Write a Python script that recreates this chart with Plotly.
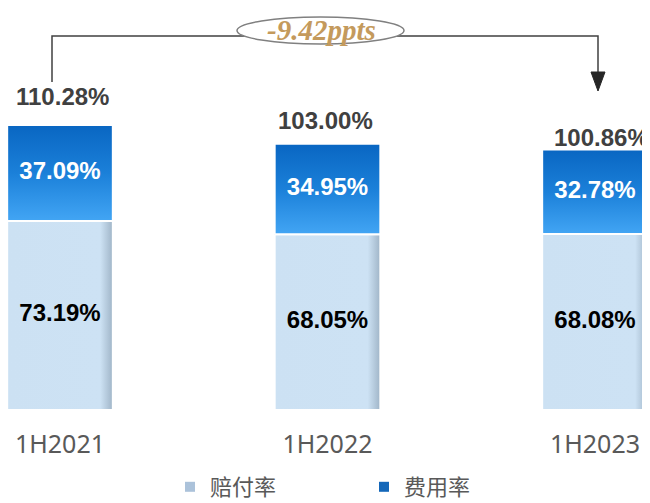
import plotly.graph_objects as go

periods = ['1H2021', '1H2022', '1H2023']
loss_ratio = [73.19, 68.05, 68.08]      # 赔付率
expense_ratio = [37.09, 34.95, 32.78]   # 费用率
combined_ratio = [110.28, 103.00, 100.86]
change_label = '-9.42ppts'

# the page body has an 8px margin, so the figure is 8px smaller than the window
OFF = 8
W, H = 650 - OFF, 503 - OFF
plot_bottom = 410          # page px where y=0 sits
plot_h = plot_bottom - OFF
px_per_unit = 2.584
bar_step = 267.5           # px between bar centres
first_centre = 60 - OFF
bw = 0.395                 # bar width in category units


def px(x):
    return (x - OFF) / W


def py(y):
    return (plot_bottom - y) / plot_h


fig = go.Figure()

# stacked bars drawn as filled shapes so they can carry the gradient of the original
for i, (lo, ex) in enumerate(zip(loss_ratio, expense_ratio)):
    x0, x1 = i - bw / 2, i + bw / 2
    fig.add_trace(go.Scatter(
        x=[x0, x1, x1, x0, x0], y=[0, 0, lo, lo, 0],
        mode='lines', fill='toself', line=dict(color='white', width=2),
        fillgradient=dict(type='horizontal', colorscale=[
            [0, '#cce1f3'], [0.88, '#cde2f4'], [1, '#9fb4c7']]),
        showlegend=False, hoverinfo='skip'
    ))
    fig.add_trace(go.Scatter(
        x=[x0, x1, x1, x0, x0], y=[lo, lo, lo + ex, lo + ex, lo],
        mode='lines', fill='toself', line=dict(color='white', width=2),
        fillgradient=dict(type='vertical', colorscale=[
            [0, '#42a5f4'], [0.5, '#1b80d9'], [1, '#0966c2']]),
        showlegend=False, hoverinfo='skip'
    ))

# values inside the segments
idx = list(range(len(periods)))
fig.add_trace(go.Scatter(
    x=idx, y=[v / 2 for v in loss_ratio], mode='text',
    text=[f'{v:.2f}%' for v in loss_ratio],
    textfont=dict(family='Liberation Sans', size=24, color='black', weight='bold'),
    showlegend=False, hoverinfo='skip'
))
fig.add_trace(go.Scatter(
    x=idx, y=[lo + ex / 2 for lo, ex in zip(loss_ratio, expense_ratio)], mode='text',
    text=[f'{v:.2f}%' for v in expense_ratio],
    textfont=dict(family='Liberation Sans', size=24, color='white', weight='bold'),
    showlegend=False, hoverinfo='skip'
))

# legend entries (colours of the original legend swatches)
for name, col in [('赔付率', '#abc2da'), ('费用率', '#1467b9')]:
    fig.add_trace(go.Scatter(
        x=[None], y=[None], mode='markers', name=name,
        marker=dict(symbol='square', size=10, color=col)
    ))

# combined ratio labels above the bars
total_xshift = [2, -2, 6]
total_yshift = [29, 23, 12]
for i, v in enumerate(combined_ratio):
    fig.add_annotation(
        x=i, y=v, text=f'{v:.2f}%', showarrow=False,
        xshift=total_xshift[i], yshift=total_yshift[i], yanchor='middle',
        font=dict(family='Liberation Sans', size=24, color='#404040', weight='bold')
    )

# connector from first to last bar
fig.add_shape(
    type='path', xref='paper', yref='paper',
    path=f'M {px(52)},{py(82)} L {px(52)},{py(36)} L {px(598)},{py(36)} L {px(598)},{py(74)}',
    line=dict(color='#404040', width=1.5)
)
fig.add_shape(
    type='path', xref='paper', yref='paper',
    path=f'M {px(591)},{py(72)} L {px(605)},{py(72)} L {px(598)},{py(91)} Z',
    fillcolor='#262626', line=dict(color='#262626', width=1)
)
fig.add_shape(
    type='circle', xref='paper', yref='paper',
    x0=px(237), x1=px(404), y0=py(44), y1=py(17),
    fillcolor='white', line=dict(color='#808080', width=1.5)
)
fig.add_annotation(
    x=px(321), y=py(30), xref='paper', yref='paper',
    xanchor='center', yanchor='middle',
    text=f'<b><i>{change_label}</i></b>', showarrow=False,
    font=dict(family='Liberation Serif', size=29, color='#c49a5c')
)

fig.update_layout(
    width=W, height=H,
    margin=dict(l=0, r=0, t=0, b=H - plot_h, autoexpand=False),
    paper_bgcolor='white', plot_bgcolor='white',
    xaxis=dict(
        range=[-first_centre / bar_step, 2 + (W - first_centre - 2 * bar_step) / bar_step],
        tickmode='array', tickvals=idx, ticktext=periods,
        showgrid=False, zeroline=False, showline=False, ticks='',
        ticklabelstandoff=17,
        tickfont=dict(family='Noto Sans', size=25, color='#595959')
    ),
    yaxis=dict(range=[0, plot_h / px_per_unit], visible=False),
    legend=dict(
        orientation='h', traceorder='normal',
        x=px(170), xanchor='left', y=py(487), yanchor='middle',
        entrywidth=149, itemwidth=30,
        font=dict(family='Noto Sans CJK SC', size=22, color='#595959')
    ),
    showlegend=True
)

fig.write_html('out.html')
